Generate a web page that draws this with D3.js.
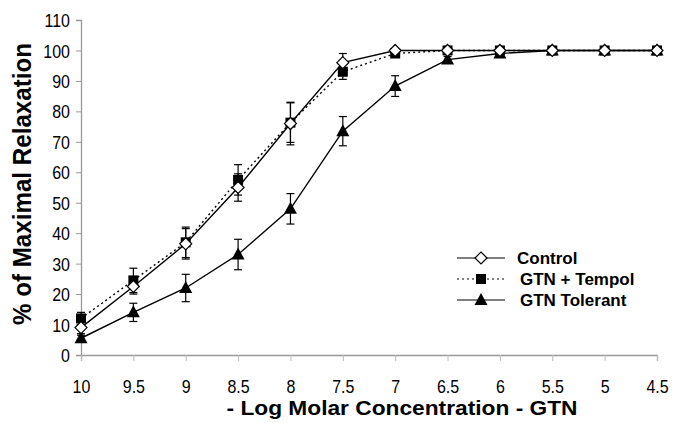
<!DOCTYPE html>
<html>
<head>
<meta charset="utf-8">
<script src="https://cdn.jsdelivr.net/npm/d3@7"></script>
<style>
  html, body { margin: 0; padding: 0; background: #fff; }
  svg { display: block; font-family: "Liberation Sans", Arial, sans-serif; }
</style>
</head>
<body>
<svg id="chart" width="680" height="423"></svg>
<script>
// -Log molar GTN concentration
const concentrations = [10, 9.5, 9, 8.5, 8, 7.5, 7, 6.5, 6, 5.5, 5, 4.5];
const yTicks = [0, 10, 20, 30, 40, 50, 60, 70, 80, 90, 100, 110];

const controlMean = [9, 22.5, 36.5, 55, 76, 96, 100, 100, 100, 100, 100, 100];
const controlErr  = [2, 2.5, 5, 4.5, 7, 3, 0.5, 0.5, 0.5, 0, 0, 0];

const tempolMean  = [12, 24.5, 37, 57.5, 76.3, 93, 99, 100, 100, 100, 100, 100];
const tempolErr   = [2, 4, 5, 5, 6.5, 2.5, 1, 0.5, 0, 0, 0, 0];

const tolerantMean = [5.5, 14, 22, 33, 48, 73.5, 88.3, 97, 99, 100, 100, 100];
const tolerantErr  = [1, 3, 4.5, 5, 5, 4.8, 3.4, 1, 0.5, 0, 0, 0];

const seriesNames = ["Control", "GTN + Tempol", "GTN Tolerant"];

const svg = d3.select("#chart");
const x = d3.scaleLinear().domain([10, 4.5]).range([81, 657]);
const y = d3.scaleLinear().domain([0, 110]).range([355, 20]);

// Axes
const yAxis = svg.append("g")
  .attr("transform", `translate(${x(10)},0)`)
  .call(d3.axisLeft(y).tickValues(yTicks).tickSize(5).tickFormat(d3.format("d")));
yAxis.select(".domain").attr("stroke", "#999").attr("stroke-width", 1.3);
yAxis.selectAll(".tick line").attr("stroke", "#999");
yAxis.selectAll("text")
  .attr("x", null).attr("y", null).attr("dy", null)
  .attr("transform", "translate(-11,6.6) scale(1,1.15)")
  .attr("font-size", 16).attr("fill", "#000")
  .attr("font-family", "Liberation Sans, Arial, sans-serif");

const xAxis = svg.append("g")
  .attr("transform", `translate(0,${y(0)})`)
  .call(d3.axisBottom(x).tickValues(concentrations).tickSize(6)
    .tickFormat(d => String(d)));
xAxis.select(".domain").attr("stroke", "#999").attr("stroke-width", 1.3);
xAxis.selectAll(".tick line").attr("stroke", "#bbb");
xAxis.selectAll("text")
  .attr("y", null).attr("dy", null)
  .attr("transform", "translate(0,38) scale(1,1.15)")
  .attr("font-size", 16).attr("fill", "#000")
  .attr("font-family", "Liberation Sans, Arial, sans-serif");

// Axis titles
svg.append("text")
  .attr("transform", `translate(31,184) rotate(-90)`)
  .attr("text-anchor", "middle")
  .attr("font-size", 26).attr("font-weight", "bold")
  .attr("textLength", 282).attr("lengthAdjust", "spacingAndGlyphs")
  .text("% of Maximal Relaxation");

svg.append("text")
  .attr("x", 402).attr("y", 415)
  .attr("text-anchor", "middle")
  .attr("font-size", 20).attr("font-weight", "bold")
  .attr("textLength", 351).attr("lengthAdjust", "spacingAndGlyphs")
  .text("- Log Molar Concentration - GTN");

const series = [
  { name: seriesNames[0], mean: controlMean, err: controlErr, dash: null, marker: "diamond" },
  { name: seriesNames[1], mean: tempolMean, err: tempolErr, dash: "2,3", marker: "square" },
  { name: seriesNames[2], mean: tolerantMean, err: tolerantErr, dash: null, marker: "triangle" }
];

function drawMarker(g, type, cx, cy) {
  if (type === "diamond") {
    g.append("path")
      .attr("d", `M${cx},${cy - 6}L${cx + 6},${cy}L${cx},${cy + 6}L${cx - 6},${cy}Z`)
      .attr("fill", "#fff").attr("stroke", "#000").attr("stroke-width", 1.2);
  } else if (type === "square") {
    g.append("rect").attr("x", cx - 5).attr("y", cy - 5).attr("width", 10).attr("height", 10)
      .attr("fill", "#000");
  } else {
    g.append("path")
      .attr("d", `M${cx},${cy - 7}L${cx + 6.5},${cy + 5}L${cx - 6.5},${cy + 5}Z`)
      .attr("fill", "#000");
  }
}

const line = d3.line().x(d => x(d[0])).y(d => y(d[1]));

// Error bars first, then lines, then markers
series.forEach(s => {
  const g = svg.append("g");
  concentrations.forEach((c, i) => {
    const e = s.err[i];
    if (e <= 0) return;
    const cx = x(c), yt = y(s.mean[i] + e), yb = y(s.mean[i] - e);
    g.append("line").attr("x1", cx).attr("x2", cx).attr("y1", yt).attr("y2", yb)
      .attr("stroke", "#000").attr("stroke-width", 1.2);
    [yt, yb].forEach(yy => g.append("line").attr("x1", cx - 4).attr("x2", cx + 4)
      .attr("y1", yy).attr("y2", yy).attr("stroke", "#000").attr("stroke-width", 1.2));
  });
});

series.forEach(s => {
  svg.append("path")
    .datum(concentrations.map((c, i) => [c, s.mean[i]]))
    .attr("d", line)
    .attr("fill", "none").attr("stroke", "#000").attr("stroke-width", 1.4)
    .attr("stroke-dasharray", s.dash);
});

// Markers: tolerant, tempol, then control on top so the open diamonds show
[series[2], series[1], series[0]].forEach(s => {
  const g = svg.append("g");
  concentrations.forEach((c, i) => drawMarker(g, s.marker, x(c), y(s.mean[i])));
});

// Legend
const legendRows = [258, 279, 300];
series.forEach((s, i) => {
  const g = svg.append("g");
  const ly = legendRows[i];
  g.append("line").attr("x1", 457).attr("x2", 505).attr("y1", ly).attr("y2", ly)
    .attr("stroke", "#000").attr("stroke-width", 1.2).attr("stroke-dasharray", s.dash);
  drawMarker(g, s.marker, 481, ly);
  g.append("text").attr("x", i === 0 ? 517 : 520).attr("y", ly + 6)
    .attr("font-size", 17).attr("font-weight", "bold").text(s.name);
});
</script>
</body>
</html>
